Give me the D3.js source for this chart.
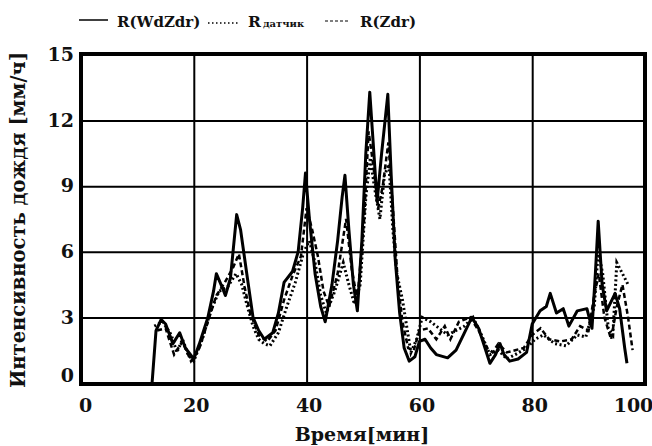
<!DOCTYPE html>
<html>
<head>
<meta charset="utf-8">
<script src="https://cdn.jsdelivr.net/npm/d3@7"></script>
<style>
  body { margin: 0; background: #fff; }
</style>
</head>
<body>
<div id="chart"></div>
<script>
// tick labels
var xTicks = [0, 20, 40, 60, 80, 100];
var yTicks = [0, 3, 6, 9, 12, 15];

// R(WdZdr) - solid
var timeWd = [12.6, 13.3, 14.2, 15, 16.3, 17.5, 18.5, 20, 21, 22.5, 23.5, 24, 25, 25.6, 26.5, 27.6, 28.3, 29.5, 30.5, 31.5, 32.5, 34, 35, 36, 37.5, 38.5, 39.3, 39.8, 40.5, 41.5, 42.5, 43.3, 44.5, 45.5, 46.3, 46.8, 47.5, 48.3, 49, 49.8, 50.5, 51.2, 51.8, 52.5, 53.3, 54.4, 55, 55.7, 56.5, 57.3, 58.2, 59.2, 60, 61, 62, 63, 65, 66.5, 68, 69.3, 70.5, 71.5, 72.5, 73.5, 74.3, 75, 76, 77.5, 79, 80, 81.4, 82.5, 83.2, 84.3, 85.5, 86.5, 88, 89.7, 90.6, 91.2, 91.7, 92.4, 93.2, 94.7, 95.5, 96.4, 96.8];
var valWd  = [0, 2.4, 2.9, 2.7, 1.8, 2.3, 1.6, 1.1, 1.8, 3.0, 4.2, 5.0, 4.4, 4.0, 4.8, 7.7, 7.0, 4.8, 3.0, 2.4, 2.0, 2.3, 3.2, 4.6, 5.1, 6.0, 8.0, 9.6, 7.5, 5.0, 3.5, 2.8, 4.5, 6.5, 8.5, 9.5, 7.0, 4.5, 3.3, 6.5, 10.5, 13.3, 11.0, 8.3, 10.5, 13.2, 9.5, 5.7, 3.2, 1.6, 1.0, 1.2, 1.9, 2.0, 1.6, 1.3, 1.15, 1.5, 2.3, 3.0, 2.5, 1.7, 0.9, 1.3, 1.8, 1.3, 1.0, 1.1, 1.4, 2.7, 3.3, 3.5, 4.1, 3.2, 3.4, 2.6, 3.3, 3.4, 2.5, 5.0, 7.4, 4.5, 3.3, 4.1, 3.4, 1.6, 0.9];

// R датчик - dotted
var timeSensor = [13, 14.5, 16, 17, 18, 19, 20, 21.5, 23, 24.5, 26, 27.5, 28.5, 29.5, 30.5, 31.5, 32.5, 33.5, 35, 36.5, 38, 39.5, 40.5, 41.5, 42.5, 43.5, 45, 46.5, 47.5, 48.5, 49.5, 50.5, 51.3, 52, 53, 53.8, 54.6, 55.3, 56, 57, 57.8, 58.5, 59.5, 60.5, 62, 63.5, 65, 66.5, 68, 69.5, 71, 72.5, 74, 75.5, 77, 79, 80.5, 82, 84, 86, 88, 89.5, 91, 91.7, 92.5, 93.5, 94.3, 95, 96, 97];
var valSensor  = [2.6, 2.8, 2.2, 1.4, 2.0, 1.3, 1.0, 2.0, 3.3, 4.2, 4.4, 5.0, 4.5, 3.5, 2.6, 2.0, 1.8, 1.7, 2.3, 3.5, 4.6, 6.0, 6.5, 5.5, 4.0, 3.2, 4.2, 5.5, 4.5, 3.6, 4.5, 8.5, 10.3, 9.0, 7.5, 9.5, 10.0, 7.0, 5.0, 3.8, 2.5, 1.4, 2.0, 3.0, 2.8, 2.5, 2.2, 2.4, 2.6, 3.0, 2.2, 1.3, 1.5, 1.1, 1.3, 1.6, 2.0, 2.2, 1.8, 1.7, 2.2, 2.1, 3.5, 6.0, 5.0, 2.5, 2.2, 5.5, 5.0, 4.5];

// R(Zdr) - dashed
var timeZdr = [13.5, 15, 16.5, 18, 19.5, 21, 22.5, 24, 25.5, 27, 28, 29, 30, 31.5, 33, 34.5, 36, 37.5, 39, 40, 41, 42, 43, 44, 45.5, 47, 48, 49, 50.2, 51, 51.8, 52.7, 53.5, 54.5, 55.3, 56.2, 57, 58, 59, 60, 61.5, 63, 64.5, 65.5, 67, 69, 70.5, 72, 73, 74, 75.5, 77, 78.5, 80, 81.5, 83, 85, 87, 88.5, 90, 91, 91.8, 92.8, 94, 95, 96, 97, 97.8];
var valZdr  = [2.4, 2.5, 1.3, 1.9, 1.0, 1.6, 2.8, 4.0, 4.6, 5.3, 5.9, 4.4, 3.2, 2.2, 1.9, 2.4, 3.8, 4.9, 5.8, 8.0, 7.0, 5.8, 4.2, 3.5, 5.0, 7.5, 5.2, 3.8, 7.5, 11.5, 10.0, 8.0, 9.0, 11.0, 8.0, 4.5, 2.8, 1.6, 1.5, 2.4, 2.5, 2.0, 2.6, 2.0, 2.8, 3.0, 2.4, 1.6, 1.4, 1.8, 1.4, 1.5, 1.6, 2.2, 2.5, 2.0, 1.9, 2.0, 2.6, 2.4, 4.0, 5.0, 3.0, 2.0, 3.5, 4.5, 3.0, 1.5];

var serif = "'DejaVu Serif', 'Liberation Serif', 'Times New Roman', serif";

function styleText(sel, size) {
    sel.attr("font-family", serif)
        .style("font-family", serif)
        .style("font-weight", "bold")
        .style("font-size", size)
        .style("fill", "#111");
}

function drawChart() {
    var width = 652, height = 446;
    var mLeft = 81, mRight = 645, mTop = 55, mBottom = 383;

    var svg = d3.select("#chart").append("svg")
        .attr("width", width)
        .attr("height", height)
        .style("background-color", "white");

    var x = d3.scaleLinear().domain([0, 100]).range([mLeft, mRight]);
    var y = d3.scaleLinear().domain([0, 15]).range([mBottom, mTop]);

    // grid
    svg.append("g")
        .attr("transform", "translate(0," + mBottom + ")")
        .call(d3.axisBottom(x).tickValues([20, 40, 60, 80]).tickSize(-(mBottom - mTop)).tickFormat(""))
        .call(g => g.select(".domain").remove())
        .selectAll(".tick line").attr("stroke", "#000").attr("stroke-width", 2);

    svg.append("g")
        .attr("transform", "translate(" + mLeft + ",0)")
        .call(d3.axisLeft(y).tickValues([3, 6, 9, 12]).tickSize(-(mRight - mLeft)).tickFormat(""))
        .call(g => g.select(".domain").remove())
        .selectAll(".tick line").attr("stroke", "#000").attr("stroke-width", 2);

    // tick labels
    var xAxis = svg.append("g")
        .attr("transform", "translate(0," + mBottom + ")")
        .call(d3.axisBottom(x).tickValues(xTicks).tickSize(0).tickPadding(16));
    xAxis.attr("font-family", serif);
    xAxis.select(".domain").remove();
    styleText(xAxis.selectAll(".tick text"), "19px");
    xAxis.selectAll(".tick text")
        .attr("dx", function(d) { return d == 0 ? 4 : (d == 100 ? -12 : 2); });

    var yAxis = svg.append("g")
        .attr("transform", "translate(" + mLeft + ",0)")
        .call(d3.axisLeft(y).tickValues(yTicks).tickSize(0).tickPadding(7));
    yAxis.attr("font-family", serif);
    yAxis.select(".domain").remove();
    styleText(yAxis.selectAll(".tick text"), "19px");
    yAxis.selectAll(".tick text")
        .attr("dy", function(d) { return d == 0 ? "-0.1em" : "0.3em"; });

    // series
    svg.append("clipPath").attr("id", "plotClip")
        .append("rect").attr("x", mLeft).attr("y", mTop).attr("width", mRight - mLeft).attr("height", mBottom - mTop);

    var line = d3.line()
        .x(function(d) { return x(d[0]); })
        .y(function(d) { return y(d[1]); });

    var plot = svg.append("g").attr("clip-path", "url(#plotClip)");

    plot.append("path")
        .datum(d3.zip(timeSensor, valSensor))
        .attr("fill", "none").attr("stroke", "#000").attr("stroke-width", 3)
        .attr("stroke-dasharray", "2,2.5")
        .attr("d", line);

    plot.append("path")
        .datum(d3.zip(timeZdr, valZdr))
        .attr("fill", "none").attr("stroke", "#000").attr("stroke-width", 2.5)
        .attr("stroke-dasharray", "5,3")
        .attr("d", line);

    plot.append("path")
        .datum(d3.zip(timeWd, valWd))
        .attr("fill", "none").attr("stroke", "#000").attr("stroke-width", 3)
        .attr("stroke-linejoin", "round")
        .attr("d", line);

    // frame
    svg.append("rect")
        .attr("x", mLeft).attr("y", mTop - 1)
        .attr("width", mRight - mLeft).attr("height", mBottom - mTop + 2)
        .attr("fill", "none").attr("stroke", "#000").attr("stroke-width", 4);

    // axis titles
    styleText(svg.append("text")
        .attr("x", 362).attr("y", 441)
        .attr("text-anchor", "middle")
        .text("Время[мин]"), "19px");

    styleText(svg.append("text")
        .attr("transform", "translate(25,220) rotate(-90)")
        .attr("text-anchor", "middle")
        .text("Интенсивность дождя [мм/ч]"), "19.5px");

    // legend
    var legend = svg.append("g");
    var ly = 20;
    legend.append("line").attr("x1", 79).attr("x2", 108).attr("y1", ly).attr("y2", ly)
        .attr("stroke", "#000").attr("stroke-width", 1.5);
    styleText(legend.append("text").attr("x", 117).attr("y", ly + 7).text("R(WdZdr)"), "15px");
    legend.append("line").attr("x1", 208).attr("x2", 239).attr("y1", ly + 3).attr("y2", ly + 3)
        .attr("stroke", "#000").attr("stroke-width", 1.5).attr("stroke-dasharray", "1.5,2.5");
    var sensorText = legend.append("text").attr("x", 248).attr("y", ly + 7);
    styleText(sensorText, "15.5px");
    sensorText.append("tspan").text("R");
    sensorText.append("tspan").attr("dx", 2).style("font-size", "10px").text("датчик");
    legend.append("line").attr("x1", 325).attr("x2", 349).attr("y1", ly + 1).attr("y2", ly + 1)
        .attr("stroke", "#000").attr("stroke-width", 1.2).attr("stroke-dasharray", "3,2");
    styleText(legend.append("text").attr("x", 360).attr("y", ly + 7).text("R(Zdr)"), "15px");
}

drawChart();
</script>
</body>
</html>
